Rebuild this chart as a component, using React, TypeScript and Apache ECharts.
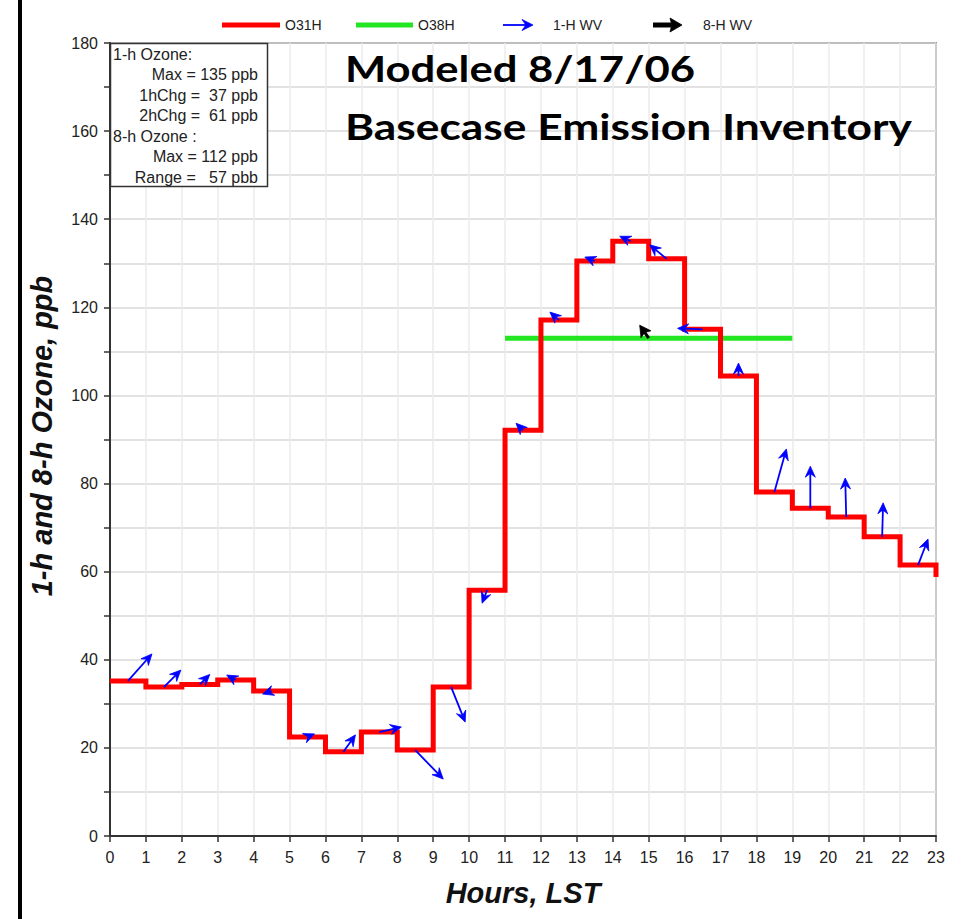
import React, { useEffect, useRef } from "react";
import * as echarts from "echarts";

// ---------- data ----------
const hourStarts = [0, 1, 2, 3, 4, 5, 6, 7, 8, 9, 10, 11, 12, 13, 14, 15, 16, 17, 18, 19, 20, 21, 22, 23];
const o31hValues = [35.2, 33.8, 34.4, 35.4, 32.9, 22.5, 19.1, 23.6, 19.5, 33.8, 55.8, 92.1, 117.1, 130.5, 135, 131, 115, 104.4, 78.1, 74.4, 72.4, 67.9, 61.5, 58.8];
const o38hHours = [11, 19];
const o38hValues = [113, 113];
// 1-h wind vectors at hour midpoints (u east, v north; drawn in px)
const windHours = [0.5, 1.5, 2.5, 3.5, 4.5, 5.5, 6.5, 7.5, 8.5, 9.5, 10.5, 11.5, 12.5, 13.5, 14.5, 15.5, 16.5, 17.5, 18.5, 19.5, 20.5, 21.5, 22.5];
const windU = [24, 17, 10, -9, -9, 7, 12, 22, 28, 14, -5, -7, -9, -10, -11, -17, -25, 0, 12, 0, -1, 1, 10];
const windV = [27, 17, 10, 5, -3, 3, 17, 5, -29, -35, -13, 7, 8, 4, 5, 14, 1, 13, 43, 42, 39, 34, 26];
// 8-h wind vector
const wind8hHour = [15];
const wind8hValue = [113];
const wind8hU = [-9];
const wind8hV = [13];

const yLabelValues = [0, 20, 40, 60, 80, 100, 120, 140, 160, 180];
const legendNames = ["O31H", "O38H", "1-H WV", "8-H WV"];
const titleLines = ["Modeled 8/17/06", "Basecase Emission Inventory"];
const infoLines = [
  { text: "1-h Ozone:", left: true },
  { text: "Max = 135 ppb", left: false },
  { text: "1hChg =\u00a0 37 ppb", left: false },
  { text: "2hChg =\u00a0 61 ppb", left: false },
  { text: "8-h Ozone :", left: true },
  { text: "Max = 112 ppb", left: false },
  { text: "Range =\u00a0\u00a0 57 pbb", left: false },
];
const xAxisTitle = "Hours, LST";
const yAxisTitle = "1-h and 8-h Ozone, ppb";

const SANS = "'Liberation Sans', Arial, sans-serif";

function arrowChildren(
  x0: number, y0: number, x1: number, y1: number,
  color: string, shaftW: number, headLen: number, headHalf: number, notch: number
) {
  const dx = x1 - x0, dy = y1 - y0;
  const L = Math.hypot(dx, dy) || 1;
  const ux = dx / L, uy = dy / L;
  const nx = -uy, ny = ux;
  const bx = x1 - ux * headLen, by = y1 - uy * headLen;
  const mx = x1 - ux * headLen * notch, my = y1 - uy * headLen * notch;
  return [
    { type: "line", shape: { x1: x0, y1: y0, x2: mx, y2: my }, style: { stroke: color, lineWidth: shaftW } },
    {
      type: "polygon",
      shape: { points: [[x1, y1], [bx + nx * headHalf, by + ny * headHalf], [mx, my], [bx - nx * headHalf, by - ny * headHalf]] },
      style: { fill: color, stroke: color, lineWidth: 0.8, lineJoin: "round" },
    },
  ];
}

function measureScale(text: string, font: string, target: number) {
  try {
    const ctx = document.createElement("canvas").getContext("2d");
    if (!ctx) return 1;
    ctx.font = font;
    const w = ctx.measureText(text).width;
    return w > 0 ? target / w : 1;
  } catch (e) {
    return 1;
  }
}

export default function App() {
  const ref = useRef<HTMLDivElement>(null);
  useEffect(() => {
    if (!ref.current) return;
    const chart = echarts.init(ref.current, undefined, { renderer: "svg" });

    const o31hData = hourStarts.map((h, i) => [h, o31hValues[i]]);
    const o38hData = o38hHours.map((h, i) => [h, o38hValues[i]]);
    const windData = windHours.map((h, i) => [h, o31hValues[i], windU[i], windV[i]]);
    const wind8Data = wind8hHour.map((h, i) => [h, wind8hValue[i], wind8hU[i], wind8hV[i]]);

    const titleFont = "bold 36px Lato";
    const s1 = measureScale(titleLines[0], titleFont, 350);
    const s2 = measureScale(titleLines[1], titleFont, 567);

    const arrowRender = (color: string, shaftW: number, headLen: number, headHalf: number, notch: number) =>
      (params: any, api: any) => {
        const p = api.coord([api.value(0), api.value(1)]);
        const x1 = p[0] + api.value(2);
        const y1 = p[1] - api.value(3);
        return { type: "group", children: arrowChildren(p[0], p[1], x1, y1, color, shaftW, headLen, headHalf, notch) };
      };

    const legendY = 25;
    const graphic: any[] = [
      { type: "rect", shape: { x: 18, y: 0, width: 4, height: 919 }, style: { fill: "#000" }, z: 100 },
      // titles
      {
        type: "text", x: 345, y: 68, scaleX: s1, z: 100,
        style: { text: titleLines[0], font: titleFont, fill: "#000", align: "left", verticalAlign: "middle" },
      },
      {
        type: "text", x: 345, y: 126.5, scaleX: s2, z: 100,
        style: { text: titleLines[1], font: titleFont, fill: "#000", align: "left", verticalAlign: "middle" },
      },
      // axis titles
      {
        type: "text", x: 523, y: 893, z: 100,
        style: { text: xAxisTitle, font: `italic bold 29px ${SANS}`, fill: "#111", align: "center", verticalAlign: "middle" },
      },
      {
        type: "text", x: 42, y: 436, rotation: Math.PI / 2, z: 100,
        style: { text: yAxisTitle, font: `italic bold 29px ${SANS}`, fill: "#111", align: "center", verticalAlign: "middle" },
      },
      // info box
      { type: "rect", shape: { x: 110.5, y: 43.5, width: 157, height: 143 }, style: { fill: "#fff", stroke: "#333", lineWidth: 1.5 }, z: 90 },
      ...infoLines.map((ln, i) => ({
        type: "text", x: ln.left ? 113 : 258, y: 54 + i * 20.5, z: 95,
        style: { text: ln.text, font: `16px ${SANS}`, fill: "#222", align: ln.left ? "left" : "right", verticalAlign: "middle" },
      })),
      // legend
      { type: "line", shape: { x1: 222, y1: legendY, x2: 280, y2: legendY }, style: { stroke: "#ff0000", lineWidth: 5 }, z: 100 },
      { type: "text", x: 285, y: legendY, z: 100, style: { text: legendNames[0], font: `14px ${SANS}`, fill: "#222", align: "left", verticalAlign: "middle" } },
      { type: "line", shape: { x1: 356, y1: legendY, x2: 413, y2: legendY }, style: { stroke: "#22e622", lineWidth: 5 }, z: 100 },
      { type: "text", x: 418, y: legendY, z: 100, style: { text: legendNames[1], font: `14px ${SANS}`, fill: "#222", align: "left", verticalAlign: "middle" } },
      {
        type: "group", z: 100,
        children: arrowChildren(503, legendY, 533, legendY, "#0000ff", 1.8, 11, 5.5, 0.65),
      },
      { type: "text", x: 553, y: legendY, z: 100, style: { text: legendNames[2], font: `14px ${SANS}`, fill: "#222", align: "left", verticalAlign: "middle" } },
      {
        type: "group", z: 100,
        children: arrowChildren(653, legendY, 682, legendY, "#000", 5, 12, 7, 0.85),
      },
      { type: "text", x: 703, y: legendY, z: 100, style: { text: legendNames[3], font: `14px ${SANS}`, fill: "#222", align: "left", verticalAlign: "middle" } },
    ];

    chart.setOption({
      animation: false,
      backgroundColor: "#fff",
      grid: { left: 110, right: 33, top: 43, bottom: 83, show: true, borderColor: "#444", borderWidth: 1.5, backgroundColor: "transparent" },
      xAxis: {
        type: "value", min: 0, max: 23, interval: 1,
        axisLine: { show: true, onZero: false, lineStyle: { color: "#333", width: 2 } },
        axisTick: { show: true, length: 6, lineStyle: { color: "#333", width: 1.5 } },
        axisLabel: { fontSize: 16, color: "#222", margin: 13, fontFamily: SANS },
        splitLine: { show: true, lineStyle: { color: "#ebebeb", width: 1.5 } },
      },
      yAxis: {
        type: "value", min: 0, max: 180, interval: 10,
        axisLine: { show: true, onZero: false, lineStyle: { color: "#333", width: 2 } },
        axisTick: { show: true, length: 6, lineStyle: { color: "#333", width: 1.5 } },
        axisLabel: {
          fontSize: 16, color: "#222", margin: 12, fontFamily: SANS,
          formatter: (v: number) => (yLabelValues.indexOf(v) >= 0 ? String(v) : ""),
        },
        splitLine: { show: true, lineStyle: { color: "#d9d9d9", width: 1.5 } },
      },
      graphic,
      series: [
        {
          name: legendNames[1], type: "line", data: o38hData, showSymbol: false, z: 2,
          lineStyle: { color: "#22e622", width: 5, cap: "butt" },
        },
        {
          name: legendNames[0], type: "line", step: "end", data: o31hData, showSymbol: false, z: 3,
          lineStyle: { color: "#ff0000", width: 5, join: "miter", cap: "butt" },
        },
        {
          name: legendNames[2], type: "custom", coordinateSystem: "cartesian2d", data: windData, z: 4,
          encode: { x: 0, y: 1 },
          renderItem: arrowRender("#0000ff", 1.8, 11, 5, 0.65),
        },
        {
          name: legendNames[3], type: "custom", coordinateSystem: "cartesian2d", data: wind8Data, z: 5,
          encode: { x: 0, y: 1 },
          renderItem: arrowRender("#000", 3, 11, 6, 0.8),
        },
      ],
    });
    return () => chart.dispose();
  }, []);
  return (
    <div
      ref={ref}
      style={{ position: "absolute", left: 0, top: 0, width: 969, height: 919, background: "#fff" }}
    />
  );
}
